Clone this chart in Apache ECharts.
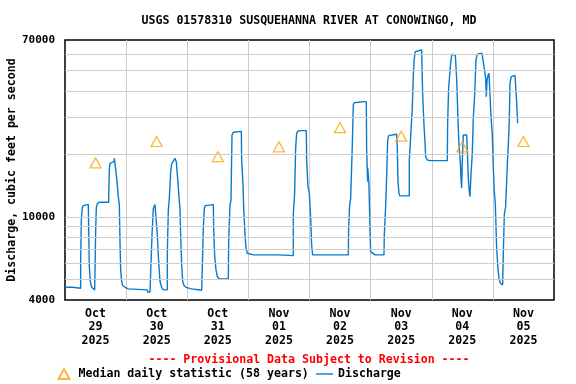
<!DOCTYPE html>
<html>
<head>
<meta charset="utf-8">
<script src="https://cdn.jsdelivr.net/npm/echarts@6/dist/echarts.min.js"></script>
<style>
html, body { margin: 0; padding: 0; background: #fff; }
#chart { width: 576px; height: 384px; }
</style>
</head>
<body>
<div id="chart"></div>
<script>
// x values are hours since Oct 29 2025 00:00
var dayLabels = ["Oct\n29\n2025", "Oct\n30\n2025", "Oct\n31\n2025", "Nov\n01\n2025",
    "Nov\n02\n2025", "Nov\n03\n2025", "Nov\n04\n2025", "Nov\n05\n2025"];

// median daily statistic, one per day (placed at noon)
var medianHours = [12, 36, 60, 84, 108, 132, 156, 180];
var medianCfs = [18100, 22900, 19400, 21600, 26700, 24300, 21600, 22900];

// discharge, [hour, cfs]
var dischargeObs = [
    [0, 4600], [3.0, 4600], [3.0, 4550], [6.15, 4550], [6.15, 6190], [6.41, 9650], [6.8, 11060],
    [7.2, 11310], [7.72, 11470], [9.16, 11470], [9.29, 8870], [9.55, 5780], [9.95, 4900],
    [10.47, 4600], [11.12, 4520], [11.65, 4470], [11.91, 4470], [12.04, 8550], [12.3, 11060],
    [12.69, 11560], [13.48, 11730], [17.14, 11730], [17.14, 12260], [17.41, 16860], [17.67, 18010],
    [18.32, 18210], [19.24, 18340], [19.37, 19030], [19.63, 19380], [19.89, 18680], [20.29, 15270],
    [20.94, 12480], [21.33, 11390], [21.59, 7610], [21.86, 5570], [22.25, 4900], [22.64, 4690],
    [23.56, 4600], [24.87, 4520], [25.26, 4470], [32.33, 4470], [32.46, 4360], [33.37, 4360],
    [34.03, 4420], [34.16, 8180], [34.68, 10980], [35.34, 11430], [35.99, 11430], [36.25, 8180],
    [36.78, 6100], [37.3, 4900], [37.95, 4600], [38.61, 4470], [40.18, 4470], [40.18, 6810],
    [40.57, 10780], [40.96, 12260], [41.49, 16430], [41.88, 17880], [42.53, 18140], [43.19, 19030],
    [43.45, 19450], [43.71, 18340], [44.24, 15160], [44.76, 12480], [45.15, 10980], [45.41, 8180],
    [45.81, 5880], [46.2, 4900], [46.72, 4690], [47.51, 4600], [49.73, 4520], [50.39, 4450],
    [53.66, 4450], [54.05, 4520], [54.31, 8810], [54.7, 10980], [55.1, 11310], [55.62, 11430],
    [58.24, 11430], [58.37, 8810], [58.76, 6520], [59.29, 5570], [59.81, 5180], [60.6, 5040],
    [64.13, 5040], [64.26, 7610], [64.78, 11310], [65.18, 12030], [65.57, 24600], [66.09, 25340],
    [66.48, 25610], [69.23, 25610], [69.36, 18680], [69.89, 14190], [70.15, 11180], [70.67, 8250],
    [71.07, 7070], [71.59, 6690], [72.24, 6620], [73.94, 6570], [83.76, 6570], [83.76, 6520],
    [89.65, 6520], [89.65, 10390], [90.17, 12950], [90.56, 21250], [90.96, 25060], [91.48, 25710],
    [92.53, 25800], [94.75, 25800], [94.88, 18680], [95.4, 13930], [95.92, 12950], [96.45, 9900],
    [96.84, 7330], [97.23, 6570], [111.24, 6570], [111.37, 8810], [111.76, 11390], [112.15, 12170],
    [112.81, 22040], [113.2, 34220], [113.59, 35130], [115.16, 35260], [117.13, 35520], [118.3, 35520],
    [118.43, 21250], [118.83, 14720], [118.9, 17050], [119.35, 14190], [119.74, 8810], [120.0, 6810],
    [120.53, 6690], [121.71, 6570], [125.24, 6570], [125.37, 8180], [125.89, 11180], [126.29, 15550],
    [126.68, 23030], [127.07, 24430], [127.6, 24790], [130.21, 24790], [130.48, 21250], [130.74, 14720],
    [131.13, 12950], [131.52, 12580], [135.19, 12580], [135.19, 18680], [135.84, 25520], [136.36, 33000],
    [136.76, 47620], [137.15, 57220], [137.54, 61570], [137.8, 62710], [140.03, 62710], [140.29, 61570],
    [140.42, 38930], [140.95, 27460], [141.34, 22870], [141.6, 19380], [142.25, 18680], [143.3, 18550],
    [150.11, 18550], [150.24, 27970], [150.63, 41130], [151.15, 49400], [151.55, 56180], [151.94, 59800],
    [152.59, 60460], [153.25, 59350], [153.77, 45910], [154.29, 29550], [154.69, 22040], [155.21, 18340],
    [155.47, 15270], [155.73, 13680], [155.99, 18340], [156.39, 24600], [156.91, 25060], [157.7, 24600],
    [158.09, 19030], [158.35, 15270], [158.74, 13190], [159.01, 12480], [159.4, 15840], [159.92, 20110],
    [160.31, 29550], [160.84, 38220], [161.36, 56180], [161.88, 59800], [162.54, 60460], [163.72, 60460],
    [164.24, 59350], [164.63, 51250], [165.16, 45910], [165.42, 37520], [165.68, 44250], [165.94, 46750],
    [166.46, 48500], [166.86, 47620], [167.25, 30660], [167.77, 24600], [168.17, 17050], [168.56, 13190],
    [168.95, 11600], [169.48, 7070], [170.0, 5670], [170.39, 5080], [170.92, 4810], [171.83, 4720],
    [172.09, 6570], [172.49, 10200], [173.01, 11180], [173.4, 14720], [173.79, 19030], [174.06, 22040],
    [174.45, 29010], [174.71, 43450], [175.24, 46750], [176.68, 47450], [177.2, 47970], [177.33, 35520],
    [177.72, 27970]
];

// log axis gridlines
var gridValues = [5000, 6000, 7000, 8000, 9000, 10000, 20000, 30000, 40000, 50000, 60000];

var monoFont = '"DejaVu Sans Mono", monospace';
var txt = { fontFamily: monoFont, fontWeight: "bold", fontSize: 11.6, color: "#000" };

var myChart = echarts.init(document.getElementById("chart"), null, { renderer: "canvas" });

var option = {
    animation: false,
    title: [
        {
            text: "USGS 01578310 SUSQUEHANNA RIVER AT CONOWINGO, MD",
            left: 309,
            top: 15,
            textAlign: "center",
            padding: 0,
            textStyle: txt,
        },
        {
            text: "---- Provisional Data Subject to Revision ----",
            left: 309,
            top: 354,
            textAlign: "center",
            padding: 0,
            textStyle: Object.assign({}, txt, { color: "#ff0000" }),
        },
    ],
    legend: [
        {
            data: [{ name: "Median daily statistic (58 years)", icon: "triangle" }],
            left: 57.5,
            top: 368,
            padding: 0,
            itemWidth: 11,
            itemHeight: 10,
            textStyle: Object.assign({}, txt, { padding: [0, 0, 0, 4] }),
            selectedMode: false,
        },
        {
            data: [{ name: "Discharge", icon: "rect" }],
            left: 316,
            top: 368,
            padding: 0,
            itemWidth: 17,
            itemHeight: 1.4,
            textStyle: txt,
            selectedMode: false,
        },
    ],
    grid: {
        left: 65,
        top: 40,
        width: 489,
        height: 260,
        containLabel: false,
        outerBoundsMode: "none",
        show: true,
        borderColor: "#000",
        borderWidth: 1.5,
        backgroundColor: "#fff",
    },
    xAxis: [
        {
            type: "value",
            min: 0,
            max: 192,
            interval: 24,
            axisLine: { show: false },
            axisTick: { show: false },
            axisLabel: { show: false },
            splitLine: {
                show: true,
                showMinLine: false,
                showMaxLine: false,
                lineStyle: { color: "#cccccc", width: 1 },
            },
        },
        {
            type: "category",
            data: dayLabels,
            position: "bottom",
            boundaryGap: true,
            axisLine: { show: false },
            axisTick: { show: false },
            splitLine: { show: false },
            axisLabel: Object.assign({}, txt, { interval: 0, margin: 7, lineHeight: 13.5 }),
        },
    ],
    yAxis: {
        type: "log",
        logBase: 10,
        min: 4000,
        max: 70000,
        name: "Discharge, cubic feet per second",
        nameLocation: "middle",
        nameRotate: 90,
        nameGap: 47,
        nameMoveOverlap: false,
        nameTextStyle: txt,
        axisLine: { show: false },
        axisTick: { show: false },
        splitLine: { show: false },
        axisLabel: Object.assign({}, txt, {
            fontSize: 11,
            margin: 10,
            formatter: function (v) {
                return String(Math.round(v));
            },
        }),
    },
    series: [
        {
            name: "grid",
            type: "line",
            data: [],
            z: 1,
            silent: true,
            markLine: {
                silent: true,
                symbol: ["none", "none"],
                label: { show: false },
                lineStyle: { color: "#cccccc", width: 1, type: "solid" },
                data: gridValues.map(function (v) {
                    return { yAxis: v };
                }),
            },
        },
        {
            name: "Discharge",
            type: "line",
            xAxisIndex: 0,
            data: dischargeObs,
            showSymbol: false,
            symbol: "none",
            z: 3,
            lineStyle: { color: "#0a7acb", width: 1.4 },
            itemStyle: { color: "#0a7acb" },
        },
        {
            name: "Median daily statistic (58 years)",
            type: "scatter",
            xAxisIndex: 0,
            data: medianHours.map(function (h, i) {
                return [h, medianCfs[i]];
            }),
            symbol: "triangle",
            symbolSize: [11, 10],
            z: 4,
            itemStyle: { color: "rgba(255,255,255,0)", borderColor: "#ffa500", borderWidth: 1.3 },
        },
    ],
};
myChart.setOption(option);
</script>
</body>
</html>
